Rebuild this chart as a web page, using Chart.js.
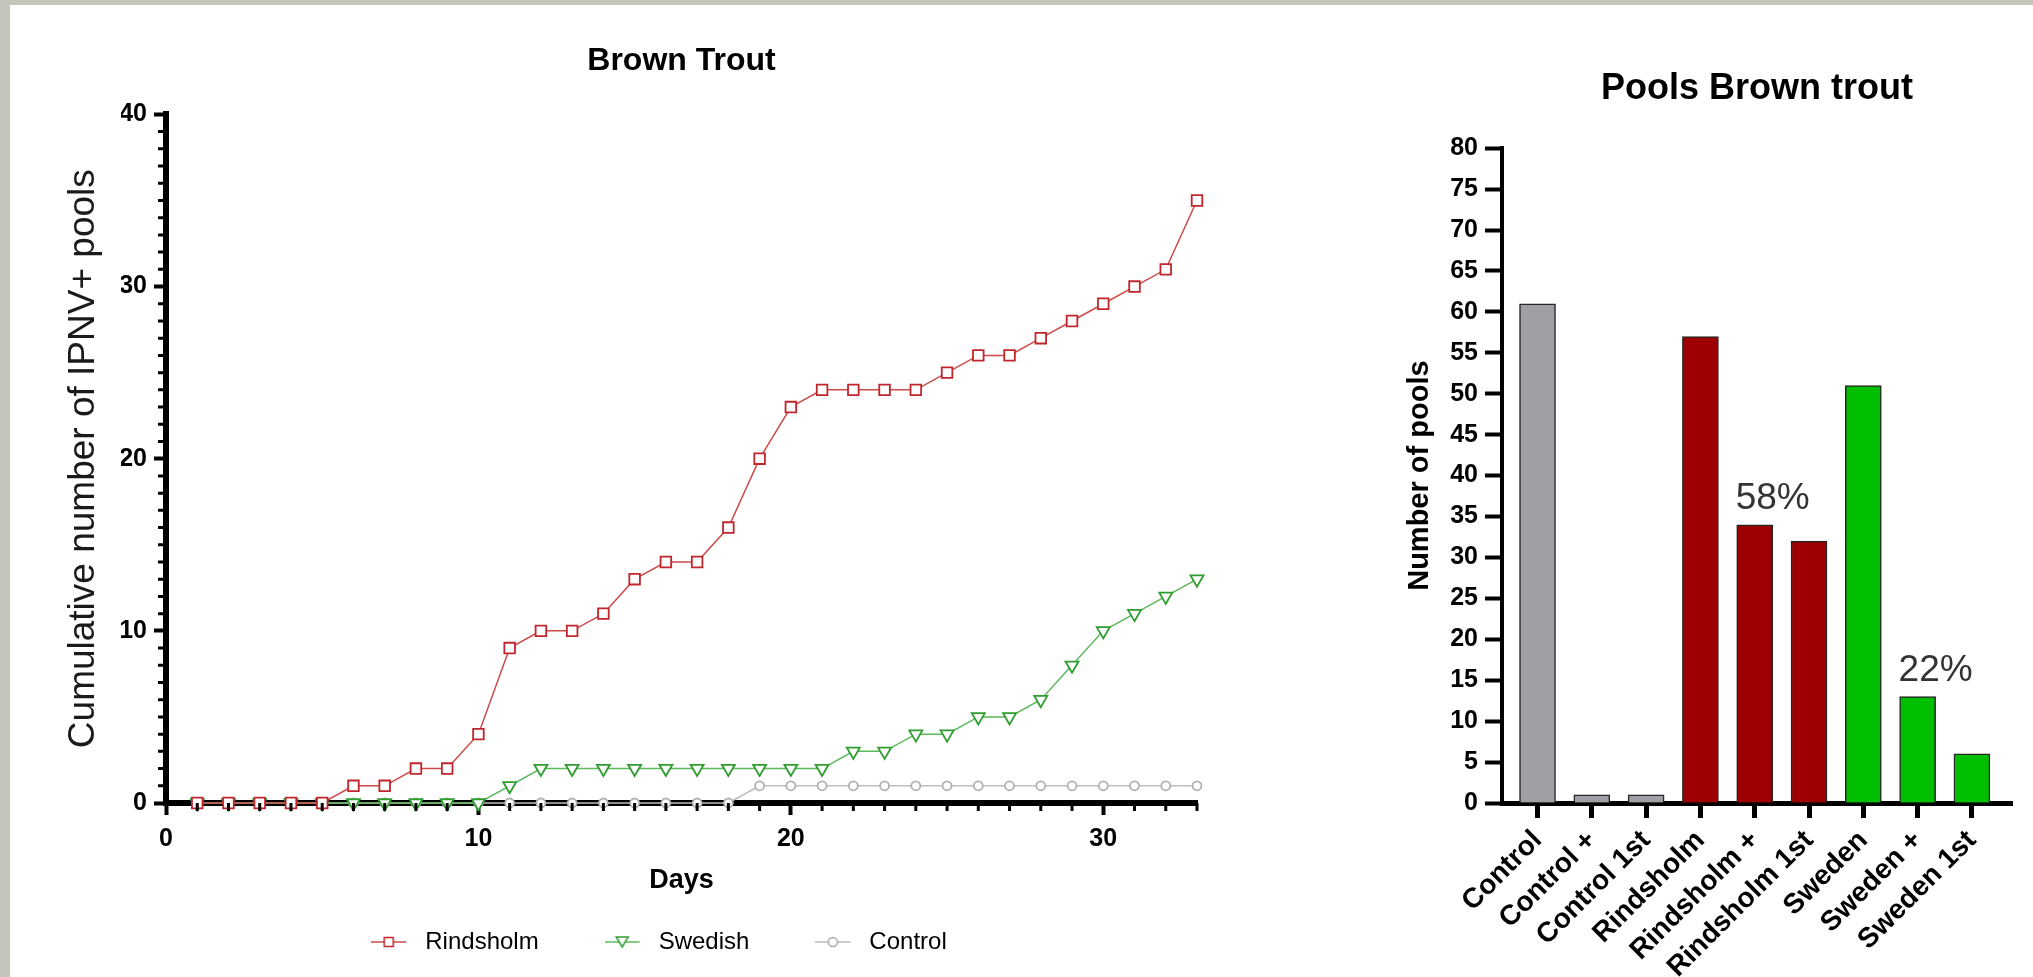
<!DOCTYPE html>
<html>
<head>
<meta charset="utf-8">
<title>Brown Trout</title>
<script src="https://cdn.jsdelivr.net/npm/chart.js@4.4.0/dist/chart.umd.min.js"></script>
<style>
  html, body { margin: 0; padding: 0; }
  body { width: 2033px; height: 977px; background: #c4c6bc; position: relative; overflow: hidden; }
  #panel { position: absolute; left: 10px; top: 5px; right: 0; bottom: 0; background: #fff; }
  #line-wrap { position: absolute; left: 0; top: 0; width: 1366px; height: 977px; }
  #bar-wrap { position: absolute; left: 1366px; top: 0; width: 667px; height: 977px; }
</style>
</head>
<body>
<div id="panel"></div>
<div id="line-wrap"><canvas id="trout-line" width="1366" height="977"></canvas></div>
<div id="bar-wrap"><canvas id="pools-bar" width="667" height="977"></canvas></div>
<script>
// --- data: cumulative IPNV+ pools per day ---
const days = [1, 2, 3, 4, 5, 6, 7, 8, 9, 10, 11, 12, 13, 14, 15, 16, 17, 18, 19, 20, 21, 22, 23, 24, 25, 26, 27, 28, 29, 30, 31, 32, 33];
const rindsholm = [0, 0, 0, 0, 0, 1, 1, 2, 2, 4, 9, 10, 10, 11, 13, 14, 14, 16, 20, 23, 24, 24, 24, 24, 25, 26, 26, 27, 28, 29, 30, 31, 35];
const swedish = [0, 0, 0, 0, 0, 0, 0, 0, 0, 0, 1, 2, 2, 2, 2, 2, 2, 2, 2, 2, 2, 3, 3, 4, 4, 5, 5, 6, 8, 10, 11, 12, 13];
const control = [0, 0, 0, 0, 0, 0, 0, 0, 0, 0, 0, 0, 0, 0, 0, 0, 0, 0, 1, 1, 1, 1, 1, 1, 1, 1, 1, 1, 1, 1, 1, 1, 1];

// --- data: pools per group ---
const poolGroups = ['Control', 'Control +', 'Control 1st', 'Rindsholm', 'Rindsholm +', 'Rindsholm 1st', 'Sweden', 'Sweden +', 'Sweden 1st'];
const poolCounts = [61, 1, 1, 57, 34, 32, 51, 13, 6];
const poolNotes = ['', '', '', '', '58%', '', '', '22%', ''];

const FONT = '"Liberation Sans", Arial, Helvetica, sans-serif';
Chart.defaults.font.family = FONT;
Chart.defaults.color = '#000';

const GRAY = '#a09fa5', RED = '#9c0000', GREEN = '#00bf00';
const barColors = [GRAY, GRAY, GRAY, RED, RED, RED, GREEN, GREEN, GREEN];

// small picture used as legend marker: line with symbol in the middle
function legendIcon(lineColor, markColor, shape) {
  const c = document.createElement('canvas');
  c.width = 42; c.height = 20;
  const g = c.getContext('2d');
  g.lineWidth = 1.5;
  g.strokeStyle = lineColor;
  g.beginPath(); g.moveTo(0, 10); g.lineTo(35, 10); g.stroke();
  g.strokeStyle = markColor; g.fillStyle = '#fff';
  g.beginPath();
  if (shape === 'rect') g.rect(13, 5.5, 9, 9);
  else if (shape === 'triangle') { g.moveTo(11.5, 5); g.lineTo(23.5, 5); g.lineTo(17.5, 15); g.closePath(); }
  else g.arc(17.5, 10, 4.5, 0, Math.PI * 2);
  g.fill(); g.stroke();
  return c;
}

// short unlabelled ticks at every day / every unit
const minorTicks = {
  id: 'minorTicks',
  afterDraw(chart) {
    const {ctx, scales: {x, y}} = chart;
    ctx.save();
    ctx.strokeStyle = '#000';
    ctx.lineWidth = 3;
    ctx.beginPath();
    for (let d = 1; d <= 33; d++) {
      if (d % 10 === 0) continue;
      const px = x.getPixelForValue(d);
      ctx.moveTo(px, y.bottom); ctx.lineTo(px, y.bottom + 8);
    }
    for (let v = 1; v < 40; v++) {
      if (v % 10 === 0) continue;
      const py = y.getPixelForValue(v);
      ctx.moveTo(x.left, py); ctx.lineTo(x.left - 8, py);
    }
    ctx.stroke();
    ctx.restore();
  }
};

const toPoints = arr => days.map((d, i) => ({x: d, y: arr[i]}));

const lineSeries = [
  {label: 'Rindsholm', data: toPoints(rindsholm), line: '#cc4a4a', mark: '#c0262c', style: 'rect', radius: 7.5, rot: 0},
  {label: 'Swedish', data: toPoints(swedish), line: '#5cb85c', mark: '#2f9e2f', style: 'triangle', radius: 7.5, rot: 180},
  {label: 'Control', data: toPoints(control), line: '#bdbdbd', mark: '#b0b0b0', style: 'circle', radius: 4.5, rot: 0}
];
const icons = [
  legendIcon('#cc4a4a', '#c0262c', 'rect'),
  legendIcon('#5cb85c', '#2f9e2f', 'triangle'),
  legendIcon('#bdbdbd', '#a8a8a8', 'circle')
];

new Chart(document.getElementById('trout-line'), {
  type: 'line',
  data: {
    datasets: lineSeries.map(s => ({
      label: s.label,
      data: s.data,
      borderColor: s.line,
      borderWidth: 1.5,
      tension: 0,
      fill: false,
      pointStyle: s.style,
      pointRotation: s.rot,
      pointRadius: s.radius,
      pointBorderColor: s.mark,
      pointBackgroundColor: '#fff',
      pointBorderWidth: 1.8,
      clip: false
    }))
  },
  options: {
    responsive: false,
    animation: false,
    events: [],
    layout: {padding: {left: 121, right: 169, top: 0, bottom: 13}},
    plugins: {
      title: {
        display: true,
        text: 'Brown Trout',
        fullSize: false,
        color: '#000',
        font: {size: 32, weight: 'bold'},
        padding: {top: 42, bottom: 34}
      },
      legend: {
        position: 'bottom',
        labels: {
          usePointStyle: true,
          pointStyleWidth: 42,
          padding: 66,
          color: '#000',
          font: {size: 24},
          generateLabels: chart => chart.data.datasets.map((ds, i) => ({
            text: ds.label,
            pointStyle: icons[i],
            fillStyle: 'rgba(0,0,0,0)',
            strokeStyle: 'rgba(0,0,0,0)',
            lineWidth: 0,
            hidden: false,
            datasetIndex: i
          }))
        }
      },
      tooltip: {enabled: false}
    },
    scales: {
      x: {
        type: 'linear',
        min: 0,
        max: 33,
        afterFit: s => { s.height = 61; },
        border: {color: '#000', width: 6},
        grid: {drawOnChartArea: false, tickLength: 12, tickWidth: 4, tickColor: '#000'},
        ticks: {stepSize: 10, includeBounds: false, autoSkip: false, maxRotation: 0, padding: 9,
                color: '#000', font: {size: 25, weight: 'bold'}},
        title: {display: true, text: 'Days', color: '#000', font: {size: 27, weight: 'bold'},
                padding: {top: 0, bottom: -33}}
      },
      y: {
        min: 0,
        max: 40,
        afterFit: s => { s.width = 45; },
        border: {color: '#000', width: 6},
        grid: {drawOnChartArea: false, tickLength: 12, tickWidth: 4, tickColor: '#000'},
        ticks: {stepSize: 10, autoSkip: false, padding: 7, color: '#000', font: {size: 25, weight: 'bold'}},
        title: {display: true, text: 'Cumulative number of IPNV+ pools', color: '#1a1a1a',
                font: {size: 37}, padding: {top: -59, bottom: 0}}
      }
    }
  },
  plugins: [minorTicks]
});

// percentage notes above some bars
const barNotes = {
  id: 'barNotes',
  afterDatasetsDraw(chart) {
    const {ctx} = chart;
    const meta = chart.getDatasetMeta(0);
    ctx.save();
    ctx.font = '37px ' + FONT;
    ctx.fillStyle = '#333';
    ctx.textAlign = 'center';
    ctx.textBaseline = 'alphabetic';
    meta.data.forEach((bar, i) => {
      if (poolNotes[i]) ctx.fillText(poolNotes[i], bar.x + 18, bar.y - 16);
    });
    ctx.restore();
  }
};

new Chart(document.getElementById('pools-bar'), {
  type: 'bar',
  data: {
    datasets: [{
      label: 'Number of pools',
      data: poolCounts.map((v, i) => ({x: i + 1, y: v})),
      backgroundColor: barColors,
      borderColor: '#262626',
      borderWidth: 1.5,
      barThickness: 36
    }]
  },
  options: {
    responsive: false,
    animation: false,
    events: [],
    layout: {padding: {left: 0, right: 21, top: 0, bottom: 0}},
    plugins: {
      title: {
        display: true,
        text: 'Pools Brown trout',
        fullSize: false,
        color: '#000',
        font: {size: 36, weight: 'bold'},
        padding: {top: 67, bottom: 38}
      },
      legend: {display: false},
      tooltip: {enabled: false}
    },
    scales: {
      x: {
        type: 'linear',
        offset: false,
        min: 0.346,
        max: 9.738,
        afterFit: s => { s.height = 174; },
        border: {color: '#000', width: 5},
        grid: {offset: false, drawOnChartArea: false, tickLength: 15, tickWidth: 5, tickColor: '#000'},
        ticks: {stepSize: 1, includeBounds: false, autoSkip: false, minRotation: 45, maxRotation: 45,
                padding: 6, color: '#000', font: {size: 28, weight: 'bold'},
                callback: v => poolGroups[v - 1] || ''}
      },
      y: {
        min: 0,
        max: 80,
        afterFit: s => { s.width = 136; },
        border: {color: '#000', width: 4},
        grid: {drawOnChartArea: false, tickLength: 17, tickWidth: 4, tickColor: '#000'},
        ticks: {stepSize: 5, autoSkip: false, padding: 7, color: '#000', font: {size: 25, weight: 'bold'}},
        title: {display: true, text: 'Number of pools', color: '#000', font: {size: 29, weight: 'bold'},
                padding: {top: 37, bottom: 0}}
      }
    }
  },
  plugins: [barNotes]
});
</script>
</body>
</html>
